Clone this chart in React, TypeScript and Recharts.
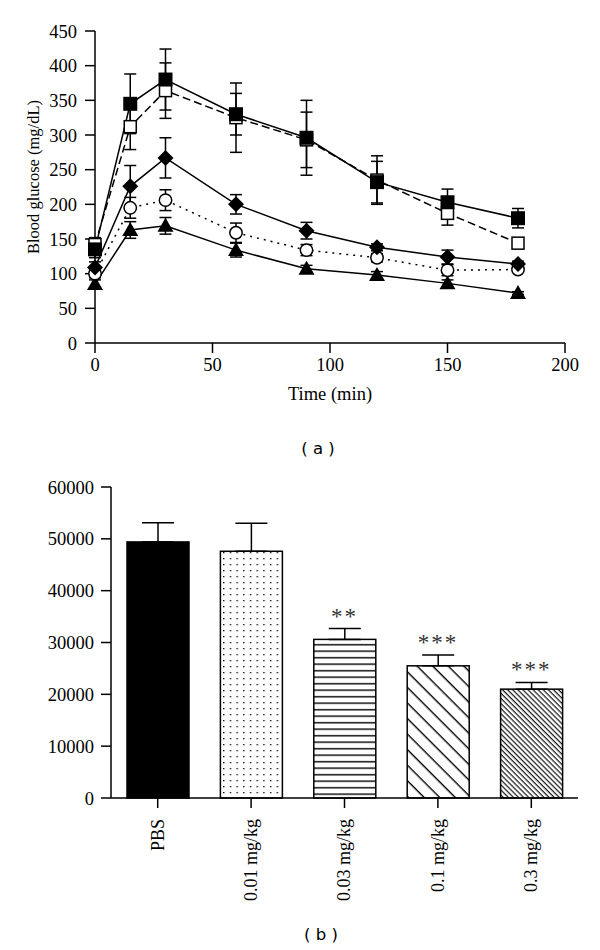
import React from "react";
import {
  ComposedChart,
  Line,
  Bar,
  Scatter,
  XAxis,
  YAxis,
  ErrorBar,
} from "recharts";

// Panel (a): blood glucose over time
const times = [0, 15, 30, 60, 90, 120, 150, 180];
const pbsMean = [135, 345, 380, 330, 296, 232, 203, 180];
const pbsErr = [12, 43, 44, 30, 54, 30, 19, 14];
const dose001Mean = [142, 312, 364, 325, 293, 235, 187, 144];
const dose001Err = [10, 33, 40, 50, 40, 35, 17, 0];
const dose003Mean = [109, 226, 267, 200, 162, 138, 124, 114];
const dose003Err = [8, 30, 29, 14, 12, 5, 10, 4];
const dose01Mean = [100, 195, 206, 159, 134, 123, 105, 106];
const dose01Err = [6, 15, 15, 14, 8, 6, 8, 3];
const dose03Mean = [85, 163, 169, 134, 107, 98, 86, 72];
const dose03Err = [6, 12, 12, 10, 5, 5, 5, 2];
const glucoseTicks = [0, 50, 100, 150, 200, 250, 300, 350, 400, 450];
const timeTicks = [0, 50, 100, 150, 200];

// Panel (b): AUC
const groups = ["PBS", "0.01 mg/kg", "0.03 mg/kg", "0.1 mg/kg", "0.3 mg/kg"];
const auc = [49400, 47600, 30600, 25500, 21000];
const aucErr = [3700, 5400, 2100, 2100, 1300];
const stars = ["", "", "**", "***", "***"];
const aucTicks = [0, 10000, 20000, 30000, 40000, 50000, 60000];

const barFills = [
  "#000",
  "url(#dots)",
  "url(#hlines)",
  "url(#diag)",
  "url(#diagDense)",
];

const timeData = times.map((t, i) => ({
  t,
  pbs: pbsMean[i],
  pbsE: pbsErr[i],
  d001: dose001Mean[i],
  d001E: dose001Err[i],
  d003: dose003Mean[i],
  d003E: dose003Err[i],
  d01: dose01Mean[i],
  d01E: dose01Err[i],
  d03: dose03Mean[i],
  d03E: dose03Err[i],
}));

const aucData = groups.map((g, i) => ({
  name: g,
  auc: auc[i],
  err: [0, aucErr[i]],
  top: auc[i] + aucErr[i],
  sig: stars[i],
}));

const serif = "'Liberation Serif', 'Times New Roman', serif";
const tickStyle = {fontFamily: serif, fontSize: 18.5, fill: "#000"};
const axisLine = {stroke: "#000", strokeWidth: 1.5};
const panelLabel = {
  position: "absolute" as const,
  width: 60,
  textAlign: "center" as const,
  fontFamily: "'DejaVu Sans', sans-serif",
  fontSize: 16.5,
  lineHeight: "20px",
};

// marker shapes
function FilledSquare(p: any) {
  return <rect key={p.index} x={p.cx - 7} y={p.cy - 7} width={14} height={14} fill="#000" />;
}
function OpenSquare(p: any) {
  return (
    <rect key={p.index} x={p.cx - 6} y={p.cy - 6} width={12} height={12}
      fill="#fff" stroke="#000" strokeWidth={1.5} />
  );
}
function Diamond(p: any) {
  const {cx, cy} = p;
  return (
    <polygon key={p.index}
      points={`${cx},${cy - 8} ${cx + 8},${cy} ${cx},${cy + 8} ${cx - 8},${cy}`}
      fill="#000" />
  );
}
function OpenCircle(p: any) {
  return (
    <circle key={p.index} cx={p.cx} cy={p.cy} r={6.2} fill="#fff" stroke="#000" strokeWidth={1.5} />
  );
}
function Triangle(p: any) {
  const {cx, cy} = p;
  return (
    <polygon key={p.index}
      points={`${cx},${cy - 8} ${cx + 8},${cy + 6} ${cx - 8},${cy + 6}`}
      fill="#000" />
  );
}

function GroupTick({x, y, payload}: any) {
  return (
    <text
      transform={`translate(${x},${y + 9}) rotate(-90)`}
      textAnchor="end"
      dy="0.33em"
      style={{fontFamily: serif, fontSize: 18, fill: "#000"}}
    >
      {payload.value}
    </text>
  );
}

function StarMark(p: any) {
  if (!p.payload.sig) return <g />;
  return (
    <text x={p.cx} y={p.cy - 5} textAnchor="middle"
      style={{fontFamily: serif, fontSize: 23, fill: "#333", letterSpacing: 2}}>
      {p.payload.sig}
    </text>
  );
}

export default function App() {
  return (
    <div style={{position: "absolute", left: 0, top: 0, width: 600, height: 950, background: "#fff"}}>
      <div style={{position: "absolute", left: 0, top: 0}}>
        <ComposedChart width={600} height={420} data={timeData}
          margin={{top: 31, right: 35, left: 0, bottom: 47}}>
          <XAxis type="number" dataKey="t" domain={[0, 200]} ticks={timeTicks}
            tick={tickStyle} tickSize={10} tickMargin={5} axisLine={axisLine} tickLine={axisLine}
            height={30}
            label={() => (
              <text x={330} y={400} textAnchor="middle" style={tickStyle}>Time (min)</text>
            )} />
          <YAxis domain={[0, 450]} ticks={glucoseTicks} width={95}
            tick={tickStyle} tickSize={10} tickMargin={8} axisLine={axisLine} tickLine={axisLine}
            label={() => (
              <text transform="translate(39,177) rotate(-90)" textAnchor="middle"
                style={{...tickStyle, fontSize: 16.5}}>
                Blood glucose (mg/dL)
              </text>
            )} />
          <Line dataKey="d03" stroke="#000" strokeWidth={1.5} dot={Triangle} isAnimationActive={false}>
            <ErrorBar dataKey="d03E" width={6} stroke="#000" strokeWidth={1.5} direction="y" />
          </Line>
          <Line dataKey="d01" stroke="#000" strokeWidth={1.5} strokeDasharray="2 5" dot={OpenCircle} isAnimationActive={false}>
            <ErrorBar dataKey="d01E" width={6} stroke="#000" strokeWidth={1.5} direction="y" />
          </Line>
          <Line dataKey="d003" stroke="#000" strokeWidth={1.5} dot={Diamond} isAnimationActive={false}>
            <ErrorBar dataKey="d003E" width={6} stroke="#000" strokeWidth={1.5} direction="y" />
          </Line>
          <Line dataKey="d001" stroke="#000" strokeWidth={1.5} strokeDasharray="8 4" dot={OpenSquare} isAnimationActive={false}>
            <ErrorBar dataKey="d001E" width={6} stroke="#000" strokeWidth={1.5} direction="y" />
          </Line>
          <Line dataKey="pbs" stroke="#000" strokeWidth={1.5} dot={FilledSquare} isAnimationActive={false}>
            <ErrorBar dataKey="pbsE" width={6} stroke="#000" strokeWidth={1.5} direction="y" />
          </Line>
        </ComposedChart>
      </div>
      <div style={{...panelLabel, left: 288, top: 439}}>( a )</div>

      <div style={{position: "absolute", left: 0, top: 460}}>
        <ComposedChart width={600} height={450} data={aucData}
          margin={{top: 27, right: 22, left: 0, bottom: 2}} barCategoryGap={16}>
          <defs>
            <pattern id="dots" patternUnits="userSpaceOnUse" width={6.7} height={6}>
              <rect width={6.7} height={6} fill="#fff" />
              <rect x={2} y={2} width={1.3} height={1.3} fill="#000" />
            </pattern>
            <pattern id="hlines" patternUnits="userSpaceOnUse" width={10} height={6.5}>
              <rect width={10} height={6.5} fill="#fff" />
              <rect x={0} y={2} width={10} height={1.4} fill="#000" />
            </pattern>
            <pattern id="diag" patternUnits="userSpaceOnUse" width={11} height={11}
              patternTransform="rotate(45)">
              <rect width={11} height={11} fill="#fff" />
              <rect x={0} y={4} width={11} height={1.4} fill="#000" />
            </pattern>
            <pattern id="diagDense" patternUnits="userSpaceOnUse" width={3.6} height={3.6}
              patternTransform="rotate(45)">
              <rect width={3.6} height={3.6} fill="#fff" />
              <rect x={0} y={1} width={3.6} height={1.1} fill="#000" />
            </pattern>
          </defs>
          <XAxis dataKey="name" tick={<GroupTick />} tickSize={10} tickMargin={2} interval={0}
            axisLine={axisLine} tickLine={axisLine} height={110} />
          <YAxis domain={[0, 60000]} ticks={aucTicks} width={111}
            tick={tickStyle} tickSize={10} tickMargin={7} axisLine={axisLine} tickLine={axisLine}
            label={() => (
              <text transform="translate(36,645) rotate(-90)" textAnchor="middle"
                style={{...tickStyle, letterSpacing: 2}}>
                AUC
              </text>
            )} />
          <Bar dataKey="auc" barSize={62} stroke="#000" strokeWidth={1.5} isAnimationActive={false}
            shape={(p: any) => (
              <rect x={p.x} y={p.y} width={p.width} height={p.height}
                fill={barFills[p.index]} stroke="#000" strokeWidth={1.5} />
            )}>
            <ErrorBar dataKey="err" width={16} stroke="#000" strokeWidth={1.5} direction="y" />
          </Bar>
          <Scatter dataKey="top" shape={StarMark} isAnimationActive={false} />
        </ComposedChart>
      </div>
      <div style={{...panelLabel, left: 291, top: 925}}>( b )</div>
    </div>
  );
}
